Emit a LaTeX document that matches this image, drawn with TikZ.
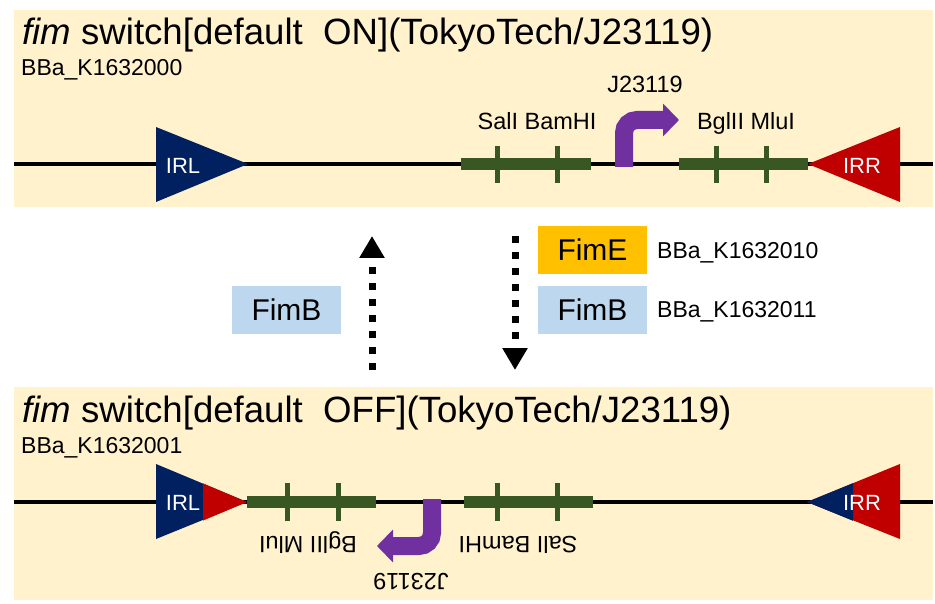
\documentclass[tikz,border=0pt]{standalone}
\usepackage{fontspec}
\setmainfont{Liberation Sans}
\usetikzlibrary{arrows.meta}
\definecolor{panelbg}{HTML}{FFF2CC}
\definecolor{irnavy}{HTML}{002060}
\definecolor{irred}{HTML}{C00000}
\definecolor{sitegreen}{HTML}{385723}
\definecolor{promopurple}{HTML}{7030A0}
\definecolor{fimbblue}{HTML}{BDD7EE}
\definecolor{fimeorange}{HTML}{FFC000}
\begin{document}
\begin{tikzpicture}[x=1pt,y=-1pt,
	dna/.style={line width=4pt,black},
	bar/.style={line width=12pt,sitegreen},
	tick/.style={line width=5pt,sitegreen},
	promo/.style={line width=18pt,promopurple,rounded corners=13pt,-{Triangle[length=16pt,width=32pt]}},
	site/.style={font=\fontsize{23.5}{26}\selectfont,inner sep=0pt,anchor=base},
	irlab/.style={font=\fontsize{22}{24}\selectfont,text=white,inner sep=0pt},
	title/.style={font=\fontsize{36.6}{40}\selectfont,anchor=base west,inner sep=0pt},
	part/.style={font=\fontsize{23}{26}\selectfont,anchor=base west,inner sep=0pt},
	enz/.style={font=\fontsize{30}{34}\selectfont,minimum width=109pt,minimum height=48pt,inner sep=0pt},
	flip/.style={line width=7pt,dash pattern=on 7pt off 9pt,-{Triangle[length=22pt,width=24pt]}}]
	\useasboundingbox (0,0) rectangle (935,604);
	\fill[panelbg] (14,10) rectangle (933,207);
	\fill[panelbg] (14,387) rectangle (933,600);

	% default ON
	\node[title] (ontitle) at (22,45) {\textit{fim} switch[default\ \ ON](TokyoTech/J23119)};
	\node[part] (onpart) at (21,76) {BBa\_K1632000};
	\draw[dna] (14,164) -- (933,164);
	\fill[irnavy] (156,127) -- (248,164) -- (156,202) -- cycle;
	\fill[irred] (808,164) -- (900,127) -- (900,202) -- cycle;
	\node[irlab] (irlon) at (183,166) {IRL};
	\node[irlab] (irron) at (862,166) {IRR};
	\draw[bar] (461,164) -- (591,164);
	\draw[bar] (679,164) -- (808,164);
	\foreach \x in {497,557,716,766}
		\draw[tick] (\x,146) -- (\x,183);
	\node[site] (salon) at (537,130) {SalI BamHI};
	\node[site] (bglon) at (746,130) {BglII MluI};
	\node[site] (j23on) at (645,93) {J23119};
	\draw[promo] (624,167) -- (624,120) -- (679,120);

	% default OFF
	\node[title] (offtitle) at (22,422) {\textit{fim} switch[default\ \ OFF](TokyoTech/J23119)};
	\node[part] (offpart) at (21,453) {BBa\_K1632001};
	\draw[dna] (14,502) -- (933,502);
	\fill[irnavy] (156,464) -- (247,502) -- (156,539) -- cycle;
	\fill[irred] (203,483.4) -- (247,502) -- (203,520.6) -- cycle;
	\fill[irred] (807,502) -- (900,464) -- (900,539) -- cycle;
	\fill[irnavy] (807,502) -- (853,483.2) -- (853,520.8) -- cycle;
	\node[irlab] (irloff) at (183,503) {IRL};
	\node[irlab] (irroff) at (862,503) {IRR};
	\draw[bar] (247,502) -- (376,502);
	\draw[bar] (464,502) -- (593,502);
	\foreach \x in {287,338,497,557}
		\draw[tick] (\x,483) -- (\x,521);
	\node[site,rotate=180] (bgloff) at (308,536) {BglII MluI};
	\node[site,rotate=180] (saloff) at (518,536) {SalI BamHI};
	\node[site,rotate=180] (j23off) at (411,573) {J23119};
	\draw[promo] (432,499) -- (432,546) -- (377,546);

	% recombinases
	\node[enz,fill=fimbblue] (fimbl) at (286.5,310) {FimB};
	\node[enz,fill=fimeorange] (fime) at (592.5,250) {FimE};
	\node[enz,fill=fimbblue] (fimbr) at (592.5,310) {FimB};
	\node[part] (fimepart) at (657,259) {BBa\_K1632010};
	\node[part] (fimbpart) at (657,317) {BBa\_K1632011};
	\coordinate (upfrom) at (372,370);
	\coordinate (upto) at (372,236);
	\coordinate (downfrom) at (515,236);
	\coordinate (downto) at (515,370);
	\path[flip] (upfrom) edge (upto);
	\path[flip] (downfrom) edge (downto);
\end{tikzpicture}
\end{document}
